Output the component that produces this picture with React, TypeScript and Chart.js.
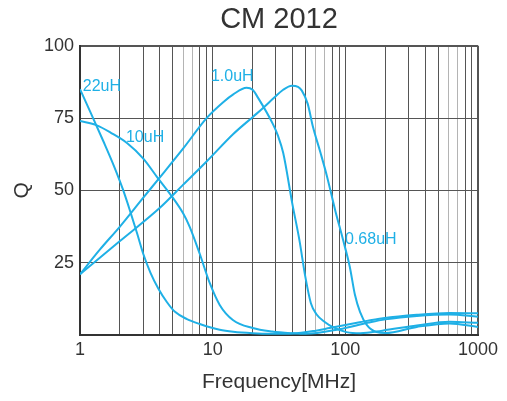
import React, { useEffect, useRef } from "react";
import { Chart, registerables } from "chart.js";

Chart.register(...registerables);

const FONT = "'Liberation Sans', Arial, sans-serif";
const LINE_COLOR = "#1fb0e6";
const TEXT_COLOR = "#333333";

// Frequency [MHz] / Q values per inductance
const freq22 = [1, 1.2, 1.5, 1.8, 2.1, 2.4, 2.7, 3.0, 3.4, 3.9, 4.5, 5.2, 6.4, 8, 11.3, 14.3, 20, 27, 40, 60, 76, 128, 192, 346, 610, 1000];
const q22 = [85, 77, 67, 58.5, 50.5, 42.5, 35, 28, 21.5, 16, 11.5, 8, 5.5, 3.8, 1.8, 1.1, 0.6, 0.4, 0.5, 1.5, 2.4, 4.4, 5.8, 7, 7.6, 7.5];

const freq10 = [1, 1.34, 1.7, 2.26, 3, 3.8, 5, 6, 6.7, 8, 9.5, 11.3, 14.2, 20, 28, 40, 50, 90, 150, 200, 346, 610, 1000];
const q10 = [74, 72.5, 70, 66.4, 61, 54.7, 47.5, 42, 37.5, 28, 18, 10.4, 5.2, 2.4, 1.2, 0.6, 0.4, 2, 4.3, 5.4, 6.6, 7.1, 6.3];

const freq1_0 = [1, 1.41, 2, 3, 4, 6, 9, 12, 14.3, 18, 20, 22, 28.4, 31, 34, 40, 45, 50, 55, 61, 70, 80, 102, 130, 190, 346, 610, 1000];
const q1_0 = [21, 29.5, 37.5, 47.5, 54.5, 64.5, 75, 80.5, 83.2, 85.5, 84.8, 82, 73, 69, 63, 45, 33, 20, 11, 7, 4.5, 2.8, 1, 0.6, 1.5, 3.3, 4.6, 4.2];

const freq068 = [1, 2, 4, 6, 9, 14.3, 20.2, 24, 29, 34, 39.5, 44, 47, 52, 57, 65, 72.6, 84, 96, 108, 118, 129, 145, 172, 200, 346, 610, 1000];
const q068 = [21, 32.5, 44, 52, 60, 69.5, 75.5, 78.5, 82, 84.8, 86.2, 85.8, 84.5, 80, 72, 63, 55, 43, 33, 23.6, 14, 8, 3.5, 1, 0.7, 2.8, 4, 2.8];

const seriesNames = ["22uH", "10uH", "1.0uH", "0.68uH"];
const seriesFreqs = [freq22, freq10, freq1_0, freq068];
const seriesQs = [q22, q10, q1_0, q068];

// curve labels (data coordinates of their left/middle anchor)
const labelTexts = ["22uH", "10uH", "1.0uH", "0.68uH"];
const labelFreq = [1.05, 2.22, 9.7, 99.4];
const labelQ = [85.8, 68.2, 89.3, 32.9];

// axis ticks
const xTickValues = [
  1, 2, 3, 4, 5, 6, 7, 8, 9,
  10, 20, 30, 40, 50, 60, 70, 80, 90,
  100, 200, 300, 400, 500, 600, 700, 800, 900,
  1000,
];
const xTickLabels = [1, 10, 100, 1000];
const yTickLabels = [25, 50, 75, 100];

const curveLabelPlugin = {
  id: "curveLabels",
  afterDatasetsDraw(chart: any) {
    const { ctx, scales } = chart;
    const x = scales.x;
    const y = scales.y;
    ctx.save();
    ctx.fillStyle = LINE_COLOR;
    ctx.font = `16px ${FONT}`;
    ctx.textAlign = "left";
    ctx.textBaseline = "middle";
    labelTexts.forEach((t, i) => {
      ctx.fillText(t, x.getPixelForValue(labelFreq[i]), y.getPixelForValue(labelQ[i]));
    });
    ctx.restore();
  },
};

function significand(v: number) {
  const e = Math.floor(Math.log10(v) + 1e-9);
  return Math.round(v / Math.pow(10, e));
}

export default function App() {
  const ref = useRef<HTMLCanvasElement>(null);
  useEffect(() => {
    const datasets = seriesNames.map((name, i) => ({
      label: name,
      data: seriesFreqs[i].map((f, j) => ({ x: f, y: seriesQs[i][j] })),
      borderColor: LINE_COLOR,
      backgroundColor: LINE_COLOR,
      borderWidth: 2,
      pointRadius: 0,
      cubicInterpolationMode: "monotone" as const,
      fill: false,
    }));
    const chart = new Chart(ref.current!, {
      type: "line",
      data: { datasets },
      plugins: [curveLabelPlugin],
      options: {
        responsive: false,
        animation: false,
        devicePixelRatio: 1,
        layout: { padding: { left: 0, right: 29, top: 0, bottom: 0 } },
        plugins: {
          legend: { display: false },
          tooltip: { enabled: false },
          title: {
            display: true,
            text: "CM 2012",
            color: TEXT_COLOR,
            font: { family: FONT, size: 29, weight: "normal" },
            padding: { top: 3, bottom: 8 },
            fullSize: false,
          },
        },
        scales: {
          x: {
            type: "logarithmic",
            min: 1,
            max: 1000,
            afterBuildTicks: (scale: any) => {
              scale.ticks = xTickValues.map((v) => ({ value: v }));
            },
            afterFit: (scale: any) => {
              scale.height = 66;
            },
            ticks: {
              autoSkip: false,
              maxRotation: 0,
              minRotation: 0,
              padding: 4,
              color: TEXT_COLOR,
              font: { family: FONT, size: 18 },
              callback: (value: any) => (xTickLabels.includes(Number(value)) ? String(value) : ""),
            },
            grid: {
              drawTicks: false,
              color: (ctx: any) => {
                const v = ctx.tick ? ctx.tick.value : 1;
                const s = significand(v);
                return s === 6 || s === 7 ? "#b4b4b4" : "#555555";
              },
              lineWidth: (ctx: any) => (ctx.tick && ctx.tick.value === 1000 ? 2 : 1),
            },
            border: { display: true, color: "#333333", width: 2 },
            title: {
              display: true,
              text: "Frequency[MHz]",
              color: TEXT_COLOR,
              font: { family: FONT, size: 21 },
              padding: { top: 0, bottom: 6 },
            },
          },
          y: {
            type: "linear",
            min: 0,
            max: 100,
            afterBuildTicks: (scale: any) => {
              scale.ticks = [0, ...yTickLabels].map((v) => ({ value: v }));
            },
            afterFit: (scale: any) => {
              scale.width = 80;
            },
            ticks: {
              padding: 6,
              color: TEXT_COLOR,
              font: { family: FONT, size: 18 },
              callback: (value: any) => (Number(value) === 0 ? "" : String(value)),
            },
            grid: {
              drawTicks: false,
              color: "#555555",
              lineWidth: (ctx: any) => (ctx.tick && ctx.tick.value === 100 ? 2 : 1),
            },
            border: { display: true, color: "#333333", width: 2 },
            title: {
              display: true,
              text: "Q",
              color: TEXT_COLOR,
              font: { family: FONT, size: 21 },
              padding: { top: 10, bottom: 0 },
            },
          },
        },
      },
    } as any);
    return () => chart.destroy();
  }, []);
  return (
    <div style={{ position: "absolute", left: 0, top: 0, width: 507, height: 401, background: "#fff" }}>
      <canvas ref={ref} width={507} height={401} style={{ display: "block" }} />
    </div>
  );
}
